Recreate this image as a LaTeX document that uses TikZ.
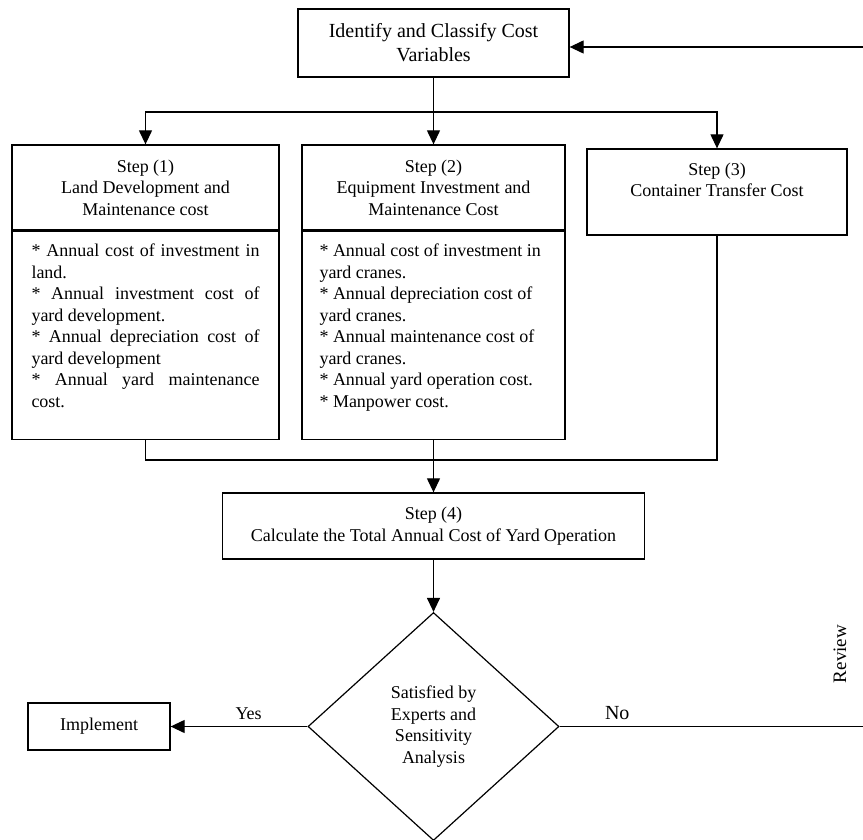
\documentclass[tikz,border=0pt]{standalone}
\usepackage{fontspec}
\setmainfont{Liberation Serif}
\usetikzlibrary{arrows.meta,shapes.geometric,calc}
\newcommand{\mainsz}{\fontsize{18}{21.5}\selectfont}
\newcommand{\bigsz}{\fontsize{20}{24}\selectfont}
\newcommand{\jline}[1]{\makebox[\linewidth][s]{#1}}
\begin{document}
\begin{tikzpicture}[x=1pt,y=-1pt,
        box/.style={draw,line width=1.3pt,rectangle,align=center,font=\mainsz,inner sep=0pt},
        arr/.style={-{Triangle[length=14pt,width=13pt]}},
        line width=1.2pt]
        \useasboundingbox (0,0) rectangle (863,840);
        \node[box,font=\bigsz,minimum width=271pt,minimum height=68pt] (top) at (433.5,43) {Identify and Classify Cost\\Variables};
        \node[box,minimum width=267pt,minimum height=85pt] (s1head) at (145.5,187.5) {Step (1)\\Land Development and\\Maintenance cost};
        \node[box,anchor=north,inner xsep=19.5pt,inner ysep=13pt] (s1body) at (s1head.south) {\parbox[c][182pt][t]{228pt}{%
                \jline{* Annual cost of investment in}\\
                land.\\
                \jline{* Annual investment cost of}\\
                yard development.\\
                \jline{* Annual depreciation cost of}\\
                yard development\\
                \jline{* Annual yard maintenance}\\
                cost.}};
        \node[box,minimum width=263pt,minimum height=85pt] (s2head) at (433.5,187.5) {Step (2)\\Equipment Investment and\\Maintenance Cost};
        \node[box,anchor=north,inner xsep=17.5pt,inner ysep=13pt] (s2body) at (s2head.south) {\parbox[c][182pt][t]{228pt}{\raggedright
                {*} Annual cost of investment in\\
                yard cranes.\\
                {*} Annual depreciation cost of\\
                yard cranes.\\
                {*} Annual maintenance cost of\\
                yard cranes.\\
                {*} Annual yard operation cost.\\
                {*} Manpower cost.}};
        \node[box,inner xsep=10pt,inner ysep=14pt] (s3) at (717,192) {\parbox[c][58pt][t]{240pt}{\centering Step (3)\\Container Transfer Cost}};
        \node[box,minimum width=422pt,minimum height=66pt] (s4) at (433.5,526) {Step (4)\\Calculate the Total Annual Cost of Yard Operation};
        \node[draw,line width=1.2pt,diamond,align=center,font=\mainsz,inner sep=0pt,minimum width=251pt,minimum height=228pt] (dec) at (433.5,726.5) {Satisfied by\\Experts and\\Sensitivity\\Analysis};
        \node[box,minimum width=142pt,minimum height=47pt] (impl) at (99,726.5) {Implement};
        \node[rotate=90,font=\fontsize{19}{22}\selectfont] (review) at (840,654) {Review};
        \coordinate (split) at (433.5,112);
        \coordinate (merge) at (433.5,460);
        \coordinate (revtop) at (863,47);
        \coordinate (revbot) at (863,726.5);
        \draw[arr] (revtop) -- (revtop -| top.east);
        \draw (top.south) -- (split);
        \draw[arr] (split) -| (s1head.north);
        \draw[arr] (split) -- (s2head.north);
        \draw[arr] (split) -| (s3.north);
        \draw (s1body.south) |- (merge);
        \draw (s3.south) |- (merge);
        \draw[arr] (s2body.south) -- (s4.north);
        \draw[arr] (s4.south) -- (dec.north);
        \draw[arr] (dec.west) -- node[above=3pt,pos=0.43,font=\mainsz] {Yes} (impl.east);
        \draw (dec.east) -- node[above=3pt,pos=0.19,font=\fontsize{20}{24}\selectfont] {No} (revbot);
\end{tikzpicture}
\end{document}
